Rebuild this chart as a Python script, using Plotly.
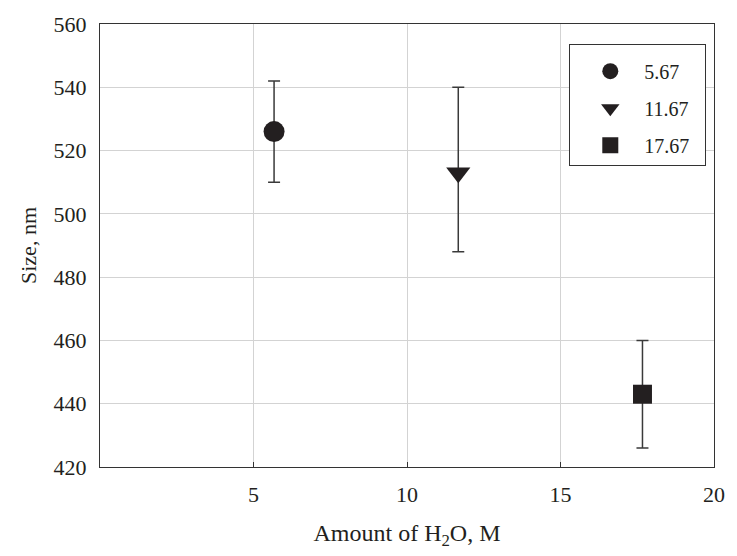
import plotly.graph_objects as go

# Water amount (M), particle size (nm) and error bounds
water = [5.67, 11.67, 17.67]
size = [526, 513, 443]
size_hi = [542, 540, 460]
size_lo = [510, 488, 426]
labels = ["5.67", "11.67", "17.67"]
symbols = ["circle", "triangle-down", "square"]
marker_sizes = [21, 21, 19]

FONT = "Liberation Serif"
INK = "#231f20"
FS = 22
PAD = "\u00a0\u00a0"  # right padding inside the legend box

fig = go.Figure()
for i in range(len(water)):
    fig.add_trace(go.Scatter(
        x=[water[i]], y=[size[i]],
        mode="markers",
        name=labels[i] + PAD,
        legendgroup=labels[i],
        marker=dict(symbol=symbols[i], size=marker_sizes[i], color=INK,
                    line=dict(width=0)),
        error_y=dict(type="data", symmetric=False,
                     array=[size_hi[i] - size[i]],
                     arrayminus=[size[i] - size_lo[i]],
                     color="#3a3a3a", thickness=1.5, width=6),
    ))

fig.update_layout(
    width=737, height=556,
    margin=dict(l=100, r=15, t=22, b=89),
    paper_bgcolor="white", plot_bgcolor="white",
    font=dict(family=FONT, size=FS, color=INK),
    showlegend=True,
    legend=dict(x=0.764, y=0.955, xanchor="left", yanchor="top",
                bordercolor="#333333", borderwidth=1.2, bgcolor="white",
                font=dict(family=FONT, size=20, color=INK),
                title=dict(text="&nbsp;", font=dict(size=5)),
                itemsizing="trace", tracegroupgap=8,
                itemwidth=58, indentation=6),
    xaxis=dict(
        range=[0, 20], tickvals=[5, 10, 15, 20],
        tickfont=dict(family=FONT, size=FS, color=INK),
        showgrid=True, gridcolor="#d3d3d3", gridwidth=1,
        showline=True, linecolor="#333333", linewidth=1.2, mirror=True,
        ticks="inside", ticklen=5, tickcolor="#333333",
        ticklabelstandoff=7,
        zeroline=False,
        title=dict(text="Amount of H<sub>2</sub>O, M", standoff=18,
                   font=dict(family=FONT, size=24, color=INK)),
    ),
    yaxis=dict(
        range=[420, 560], tickvals=[420, 440, 460, 480, 500, 520, 540, 560],
        tickfont=dict(family=FONT, size=FS, color=INK),
        showgrid=True, gridcolor="#d3d3d3", gridwidth=1,
        showline=True, linecolor="#333333", linewidth=1.2, mirror=True,
        ticks="", ticklabelstandoff=8,
        zeroline=False,
        title=dict(text="Size, nm", standoff=10,
                   font=dict(family=FONT, size=FS, color=INK)),
    ),
)

fig.write_html("out.html")
